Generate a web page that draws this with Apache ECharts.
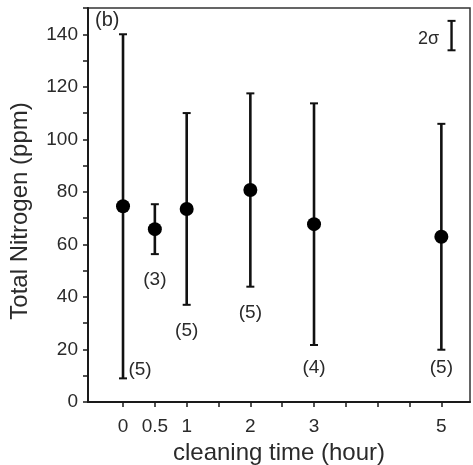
<!DOCTYPE html>
<html>
<head>
<meta charset="utf-8">
<script src="https://cdn.jsdelivr.net/npm/echarts@6/dist/echarts.min.js"></script>
<style>
html,body{margin:0;padding:0;background:#fff;}
#chart{width:473px;height:465px;}
</style>
</head>
<body>
<div id="chart"></div>
<script>
// cleaning time (hour)
var cleaningTime = [0, 0.5, 1, 2, 3, 5];
// mean total nitrogen (ppm)
var meanN = [74.5, 65.8, 73.5, 80.7, 67.7, 62.9];
// half-length of error bar (ppm)
var errN = [65.5, 9.5, 36.5, 36.8, 46.0, 43.0];
// sample counts
var sampleCount = [5, 3, 5, 5, 4, 5];
// x tick labels
var xTickLabels = [0, 0.5, 1, 2, 3, 5];
var xTicks = [0, 0.5, 1, 1.5, 2, 2.5, 3, 3.5, 4, 4.5, 5];
// 2-sigma scale bar (x, low, high)
var sigmaBarX = [5.16];
var sigmaBarLow = [133.9];
var sigmaBarHigh = [145.1];

var FONT = '"Liberation Sans", Arial, Helvetica, sans-serif';
var TXT = '#2a2a2a';

var barData = cleaningTime.map(function (t, i) {
  return [t, meanN[i], errN[i], sampleCount[i]];
});
var meanData = cleaningTime.map(function (t, i) { return [t, meanN[i]]; });

var chart = echarts.init(document.getElementById('chart'), null, {renderer: 'canvas'});

chart.setOption({
  animation: false,
  backgroundColor: '#fff',
  grid: {
    left: 88, right: 3, top: 8, bottom: 63,
    outerBoundsMode: 'none',
    containLabel: false,
    show: true, borderColor: '#333', borderWidth: 1.5, backgroundColor: 'transparent'
  },
  xAxis: {
    type: 'value',
    min: -0.55, max: 5.45,
    name: 'cleaning time (hour)',
    nameLocation: 'middle',
    nameGap: 34,
    nameTextStyle: {fontSize: 24, fontFamily: FONT, color: TXT},
    axisLine: {show: true, onZero: false, lineStyle: {color: '#1a1a1a', width: 2}},
    axisTick: {show: true, length: 5, lineStyle: {color: '#1a1a1a', width: 1.5}, customValues: xTicks},
    axisLabel: {fontSize: 19, fontFamily: FONT, color: TXT, margin: 15, customValues: xTickLabels},
    splitLine: {show: false}
  },
  yAxis: {
    type: 'value',
    min: 0, max: 150, interval: 10,
    name: 'Total Nitrogen (ppm)',
    nameLocation: 'middle',
    nameGap: 56,
    nameTextStyle: {fontSize: 24, fontFamily: FONT, color: TXT, padding: [0, 12, 0, 0]},
    axisLine: {show: true, onZero: false, lineStyle: {color: '#1a1a1a', width: 2}},
    axisTick: {show: true, length: 5, lineStyle: {color: '#1a1a1a', width: 1.5}},
    axisLabel: {
      fontSize: 19, fontFamily: FONT, color: TXT, margin: 10,
      formatter: function (v) { return (v % 20 === 0 && v <= 140) ? String(v) : ''; }
    },
    splitLine: {show: false}
  },
  graphic: [{
    type: 'text', left: 95, top: 10,
    style: {text: '(b)', fontSize: 20, fontFamily: FONT, fill: TXT}
  }],
  series: [
    {
      type: 'custom',
      z: 2,
      data: barData,
      renderItem: function (params, api) {
        var x = api.value(0), m = api.value(1), e = api.value(2), n = api.value(3);
        var top = api.coord([x, m + e]);
        var bot = api.coord([x, m - e]);
        var cw = 4;
        var ls = {stroke: '#111', lineWidth: 2.6};
        var cs = {stroke: '#111', lineWidth: 2};
        var ly = bot[1] + 26, lx = bot[0];
        if (ly > 385) { lx = bot[0] + 17; ly = bot[1] - 9; }
        else if (ly > 368) { ly = 368; }
        return {
          type: 'group',
          children: [
            {type: 'line', shape: {x1: top[0], y1: top[1], x2: bot[0], y2: bot[1]}, style: ls},
            {type: 'line', shape: {x1: top[0] - cw, y1: top[1], x2: top[0] + cw, y2: top[1]}, style: cs},
            {type: 'line', shape: {x1: bot[0] - cw, y1: bot[1], x2: bot[0] + cw, y2: bot[1]}, style: cs},
            {type: 'text', x: lx, y: ly, style: {text: '(' + n + ')', fontSize: 19, fontFamily: FONT, fill: TXT, align: 'center', verticalAlign: 'middle'}}
          ]
        };
      }
    },
    {
      type: 'scatter',
      z: 3,
      data: meanData,
      symbol: 'circle',
      symbolSize: 14,
      itemStyle: {color: '#000', opacity: 1}
    },
    {
      type: 'custom',
      z: 2,
      data: sigmaBarX.map(function (x, i) { return [x, sigmaBarLow[i], sigmaBarHigh[i]]; }),
      renderItem: function (params, api) {
        var top = api.coord([api.value(0), api.value(2)]);
        var bot = api.coord([api.value(0), api.value(1)]);
        var cw = 4;
        var s = {stroke: '#111', lineWidth: 2};
        return {
          type: 'group',
          children: [
            {type: 'line', shape: {x1: top[0], y1: top[1], x2: bot[0], y2: bot[1]}, style: {stroke: '#111', lineWidth: 2.4}},
            {type: 'line', shape: {x1: top[0] - cw, y1: top[1], x2: top[0] + cw, y2: top[1]}, style: s},
            {type: 'line', shape: {x1: bot[0] - cw, y1: bot[1], x2: bot[0] + cw, y2: bot[1]}, style: s},
            {type: 'text', x: top[0] - 23, y: (top[1] + bot[1]) / 2 + 3, style: {text: '2σ', fontSize: 18, fontFamily: FONT, fill: TXT, align: 'center', verticalAlign: 'middle'}}
          ]
        };
      }
    }
  ]
});
</script>
</body>
</html>
